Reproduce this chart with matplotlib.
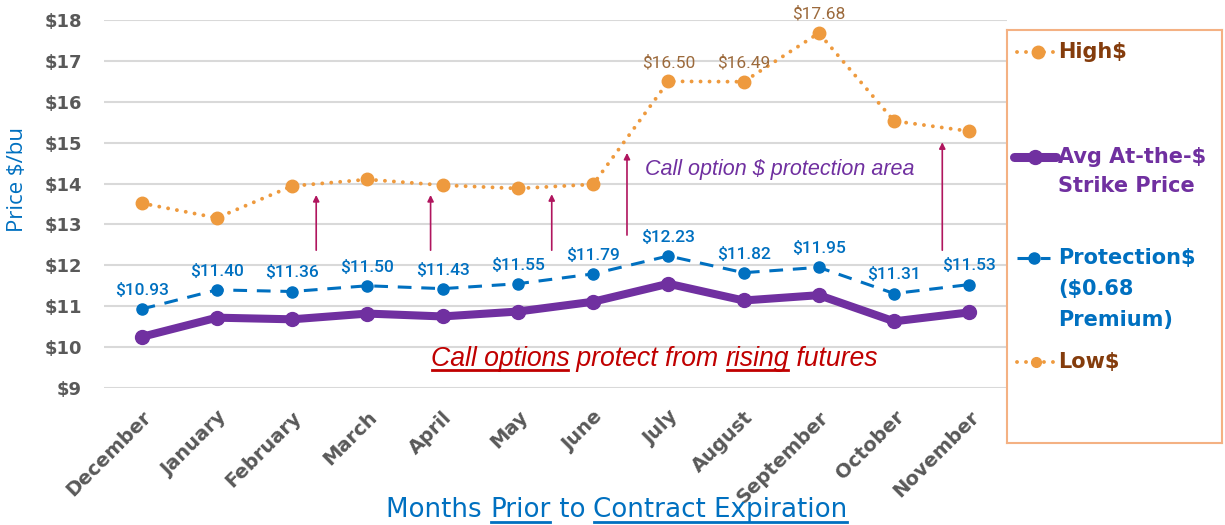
import numpy as np
import matplotlib.pyplot as plt
from matplotlib.lines import Line2D
from matplotlib.transforms import IdentityTransform

plt.rcParams['font.family'] = ['DejaVu Sans']

# chart data
months = ['December', 'January', 'February', 'March', 'April', 'May',
          'June', 'July', 'August', 'September', 'October', 'November']
high = [13.52, 13.16, 13.94, 14.10, 13.96, 13.88, 13.98, 16.50, 16.49, 17.68, 15.53, 15.28]
protection = [10.93, 11.40, 11.36, 11.50, 11.43, 11.55, 11.79, 12.23, 11.82, 11.95, 11.31, 11.53]
avg_strike = [10.25, 10.72, 10.68, 10.82, 10.75, 10.87, 11.11, 11.55, 11.14, 11.27, 10.63, 10.85]
high_labelled = [7, 8, 9]
y_ticks = list(range(9, 19))

# arrows marking the protection area (x in category units, y in $/bu)
arrow_x = [2.32, 3.84, 5.45, 6.45, 10.64]
arrow_tail = [12.37, 12.37, 12.37, 12.74, 12.37]
arrow_head = [13.72, 13.72, 13.74, 14.75, 15.01]

orange = '#EE9A3E'
purple = '#7030A0'
blue = '#0070C0'
brown = '#843C0C'
red = '#C00000'
arrow_col = '#B0155E'
gray = '#595959'

dots = (0, (0.01, 2.3))
dashes = (0, (4.5, 3.2))

fig = plt.figure(figsize=(12.25, 5.25), dpi=100)
W, H = 1225, 525
ax = fig.add_axes([104 / W, 1 - 388 / H, (1007 - 104) / W, (388 - 20) / H])

x = np.arange(len(months))
ax.plot(x, high, color=orange, lw=2.8, ls=dots, dash_capstyle='round',
        marker='o', ms=9, zorder=3)
ax.plot(x, protection, color=blue, lw=2.2, ls=dashes,
        marker='o', ms=8, zorder=3)
ax.plot(x, avg_strike, color=purple, lw=5.8, solid_capstyle='round',
        marker='o', ms=10, zorder=4)

for i, v in enumerate(protection):
    ax.annotate(f'${v:.2f}', (i, v), xytext=(0, 8), textcoords='offset points',
                ha='center', va='bottom', color=blue, fontsize=12.5,
                family='Roboto', fontweight='medium')
for i in high_labelled:
    ax.annotate(f'${high[i]:.2f}', (i, high[i]), xytext=(0, 8), textcoords='offset points',
                ha='center', va='bottom', color='#9C6A3C', fontsize=12.5, family='Roboto')

for xa, y0, y1 in zip(arrow_x, arrow_tail, arrow_head):
    ax.annotate('', xy=(xa, y1), xytext=(xa, y0),
                arrowprops=dict(arrowstyle='-|>', color=arrow_col, lw=1.2,
                                mutation_scale=9, shrinkA=0, shrinkB=0))

ax.text(8.48, 14.35, 'Call option $ protection area', color=purple, fontsize=15.5,
        family='Liberation Sans', style='italic', ha='center', va='center')

ax.set_xlim(-0.5, len(months) - 0.5)
ax.set_ylim(9, 18)
ax.set_yticks(y_ticks)
ax.set_yticklabels([f'${v}' for v in y_ticks])
ax.set_xticks(x)
ax.set_xticklabels(months, rotation=45, ha='right', rotation_mode='anchor')
ax.tick_params(axis='y', length=0, pad=16, labelsize=13, labelcolor=gray)
ax.tick_params(axis='x', length=0, pad=14, labelsize=14, labelcolor=gray)
for lab in ax.get_yticklabels() + ax.get_xticklabels():
    lab.set_fontweight('bold')
ax.grid(axis='y', color='#D9D9D9', lw=1.5)
ax.set_axisbelow(True)
for s in ax.spines.values():
    s.set_visible(False)

fig.text(18 / W, 1 - 180 / H, 'Price $/bu', rotation=90, color=blue, fontsize=16,
         family='Open Sans', ha='center', va='center')

# red statement with underlined words
parts = [('Call options', True), (' protect from ', False), ('rising', True), (' futures', False)]
texts = []
t = ax.text(3.84, 9.38, parts[0][0], color=red, fontsize=19.2, family='Liberation Sans',
            style='italic', ha='left', va='bottom')
texts.append(t)
for s, _ in parts[1:]:
    t = ax.annotate(s, xy=(1, 0), xycoords=t, color=red, fontsize=19.2,
                    family='Liberation Sans', style='italic', ha='left', va='bottom')
    texts.append(t)

# x axis title with underlined words
xparts = [('Months ', False), ('Prior', True), (' to ', False), ('Contract Expiration', True)]
xtexts = []
for s, _ in xparts:
    t = fig.text(0, 0, s, color=blue, fontsize=18.8, ha='left', va='baseline')
    xtexts.append(t)

fig.canvas.draw()
# lay out the x title pieces side by side, centred under the plot
widths = [tt.get_window_extent().width for tt in xtexts]
left = 617 - sum(widths) / 2
for tt, w in zip(xtexts, widths):
    tt.set_position((left / W, 1 - 517 / H))
    left += w
fig.canvas.draw()


def underline(tt, color, lw, drop):
    bb = tt.get_window_extent()
    base = bb.y0 + drop
    fig.add_artist(Line2D([bb.x0 + 1, bb.x1 - 1], [base, base], transform=IdentityTransform(),
                          color=color, lw=lw))


for tt, (s, u) in zip(texts, parts):
    if u:
        underline(tt, red, 2.0, 2)
for tt, (s, u) in zip(xtexts, xparts):
    if u:
        underline(tt, blue, 2.0, 1)

# legend box
lg = fig.add_axes([1007 / W, 1 - 443 / H, (1222 - 1007) / W, (443 - 30) / H])
lg.set_xlim(0, 215)
lg.set_ylim(413, 0)
lg.set_xticks([])
lg.set_yticks([])
for s in lg.spines.values():
    s.set_color('#F4B183')
    s.set_linewidth(1.5)

lg.add_line(Line2D([10, 46], [22, 22], color=orange, lw=2.8, ls=dots, dash_capstyle='round'))
lg.add_line(Line2D([31], [22], color=orange, marker='o', ms=9))
lg.add_line(Line2D([7, 49], [127, 127], color=purple, lw=6.5, solid_capstyle='round'))
lg.add_line(Line2D([28], [127], color=purple, marker='o', ms=10))
lg.add_line(Line2D([10, 43], [228, 228], color=blue, lw=2.2, ls=dashes))
lg.add_line(Line2D([27], [228], color=blue, marker='o', ms=8))
lg.add_line(Line2D([10, 46], [332, 332], color=orange, lw=2.8, ls=dots, dash_capstyle='round'))
lg.add_line(Line2D([29], [332], color=orange, marker='o', ms=7))

entries = [(22, 'High$', brown), (127, 'Avg At-the-$', purple), (156, 'Strike Price', purple),
           (228, 'Protection$', blue), (259, '($0.68', blue), (290, 'Premium)', blue),
           (332, 'Low$', brown)]
for yy, s, c in entries:
    lg.text(51, yy, s, color=c, fontsize=15, fontweight='bold', ha='left', va='center')

fig.savefig('out.png', dpi=100)
